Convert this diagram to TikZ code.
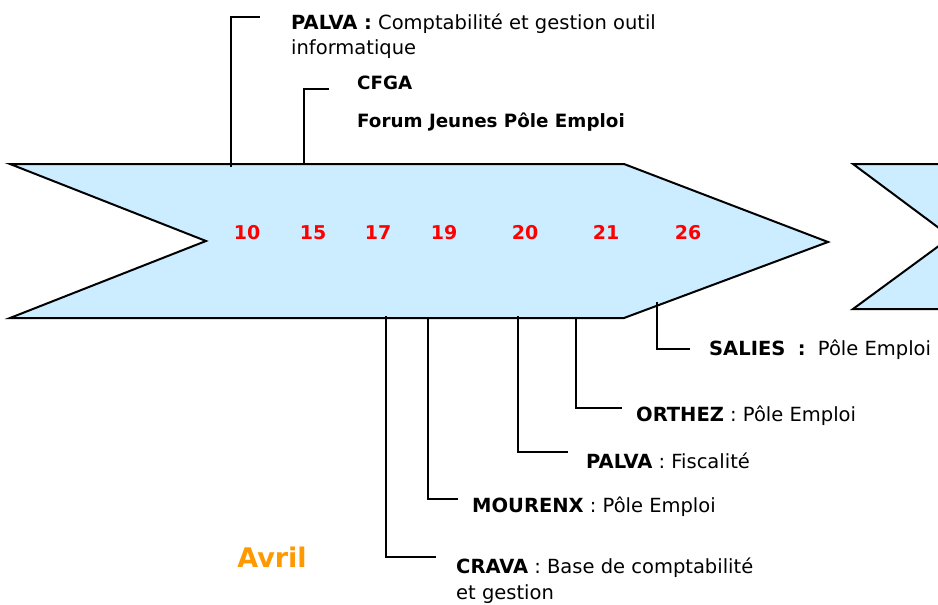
\documentclass[tikz,border=0pt]{standalone}
\usepackage{fontspec}
\setmainfont{DejaVu Sans}
\definecolor{arrowfill}{HTML}{CCECFF}
\definecolor{numred}{HTML}{FF0000}
\definecolor{avrilorange}{HTML}{FF9900}
\tikzset{
  shape outline/.style={draw=black, line width=2pt, fill=arrowfill, line join=miter},
  link/.style={draw=black, line width=1.7pt},
  daynum/.style={anchor=base, text=numred, font=\fontsize{19}{21}\selectfont\bfseries, inner sep=0pt},
  label text/.style={anchor=base west, inner sep=0pt, align=left, font=\fontsize{19.5}{25}\selectfont},
  month/.style={text=avrilorange, font=\fontsize{27}{30}\selectfont\bfseries, inner sep=0pt}
}
\begin{document}
\begin{tikzpicture}[x=1pt,y=-1pt]
\useasboundingbox (0,0) rectangle (938,605);
% main arrow
\draw[shape outline] (10,164) -- (624,164) -- (828,242) -- (624,318) -- (10,318) -- (206,241) -- cycle;
% next arrow, partly off the picture
\begin{scope}
\clip (0,0) rectangle (938,605);
\draw[shape outline] (853,164) -- (960,164) -- (960,309) -- (853,309) -- (951,237) -- cycle;
\end{scope}
% day numbers
\node[daynum] (d10) at (247,239) {10};
\node[daynum] (d15) at (313,239) {15};
\node[daynum] (d17) at (378,239) {17};
\node[daynum] (d19) at (444,239) {19};
\node[daynum] (d20) at (525,239) {20};
\node[daynum] (d21) at (606,239) {21};
\node[daynum] (d26) at (688,239) {26};
% labels (multi-line nodes: base = last line's baseline)
\node[label text] (t1) at (291,54) {\textbf{PALVA :} Comptabilité et gestion outil\\informatique};
\node[label text, font=\fontsize{18.3}{25}\selectfont] (t2) at (357,127) {\textbf{CFGA}\\[13pt]\textbf{Forum Jeunes Pôle Emploi}};
\node[label text, font=\fontsize{19.5}{26}\selectfont] (t3) at (456,599) {\textbf{CRAVA} : Base de comptabilité\\et gestion};
\node[label text] (t4) at (472,512) {\textbf{MOURENX} : Pôle Emploi};
\node[label text] (t5) at (586,468) {\textbf{PALVA} : Fiscalité};
\node[label text] (t6) at (636,421) {\textbf{ORTHEZ} : Pôle Emploi};
\node[label text] (t7) at (709,355) {\textbf{SALIES} \ \textbf{:} \ Pôle Emploi};
\node[month] (avril) at (272,557) {Avril};
% connector anchors
\coordinate (e1) at (231,167);
\coordinate (h1) at (260,17);
\coordinate (e2) at (304,164);
\coordinate (h2) at (329,89);
\coordinate (e3) at (386,316);
\coordinate (h3) at (436,557);
\coordinate (e4) at (428,318);
\coordinate (h4) at (458,499);
\coordinate (e5) at (518,316);
\coordinate (h5) at (568,452);
\coordinate (e6) at (576,318);
\coordinate (h6) at (622,408);
\coordinate (e7) at (657,302);
\coordinate (h7) at (690,349);
\draw[link] (e1) |- (h1);
\draw[link] (e2) |- (h2);
\draw[link] (e3) |- (h3);
\draw[link] (e4) |- (h4);
\draw[link] (e5) |- (h5);
\draw[link] (e6) |- (h6);
\draw[link] (e7) |- (h7);
\end{tikzpicture}
\end{document}
